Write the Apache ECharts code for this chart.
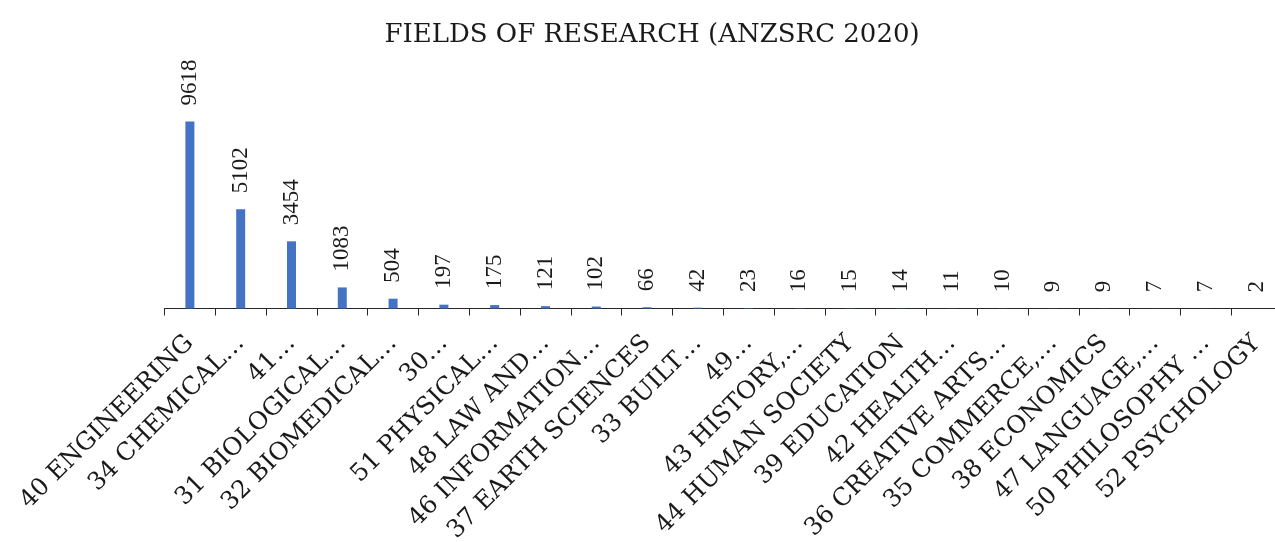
<!DOCTYPE html>
<html>
<head>
    <meta charset="UTF-8">
    <title>Fields of Research</title>
    <style>
        html, body { margin: 0; padding: 0; background: #fff; }
        #main { width: 1275px; height: 542px; }
    </style>
</head>
<body>
<div id="main"></div>
<script src="https://cdn.jsdelivr.net/npm/echarts@6/dist/echarts.min.js"></script>
<script>
    // categories as they appear on the axis (already cut short in the original)
    var fields = [
        '40 ENGINEERING', '34 CHEMICAL…', '41…', '31 BIOLOGICAL…', '32 BIOMEDICAL…',
        '30…', '51 PHYSICAL…', '48 LAW AND…', '46 INFORMATION…', '37 EARTH SCIENCES',
        '33 BUILT…', '49…', '43 HISTORY,…', '44 HUMAN SOCIETY', '39 EDUCATION',
        '42 HEALTH…', '36 CREATIVE ARTS…', '35 COMMERCE,…', '38 ECONOMICS', '47 LANGUAGE,…',
        '50 PHILOSOPHY …', '52 PSYCHOLOGY'
    ];
    var counts = [9618, 5102, 3454, 1083, 504, 197, 175, 121, 102, 66, 42, 23, 16, 15, 14, 11, 10, 9, 9, 7, 7, 2];

    var times = '"Liberation Serif", serif';
    var wideSerif = '"DejaVu Serif", serif';

    var myChart = echarts.init(document.getElementById('main'));
    var option = {
        animation: false,
        title: {
            text: 'FIELDS OF RESEARCH (ANZSRC 2020)',
            left: 647,
            top: 17,
            textAlign: 'center',
            textStyle: {
                fontFamily: wideSerif,
                fontSize: 26,
                fontWeight: 'normal',
                color: '#1a1a1a'
            }
        },
        grid: {
            left: 164.5,
            right: -7,
            top: 114,
            bottom: 233.5,
            containLabel: false,
            outerBoundsMode: 'none'
        },
        xAxis: {
            type: 'category',
            data: fields,
            axisLine: { lineStyle: { color: '#262626', width: 1 } },
            axisTick: { show: true, alignWithLabel: false, length: 7, lineStyle: { color: '#262626' } },
            axisLabel: {
                interval: 0,
                rotate: 45,
                margin: 31,
                hideOverlap: false,
                fontFamily: wideSerif,
                fontSize: 24.5,
                color: '#1a1a1a'
            }
        },
        yAxis: {
            type: 'value',
            min: 0,
            max: 10000,
            show: false,
            splitLine: { show: false }
        },
        series: [
            {
                name: 'Count',
                type: 'bar',
                data: counts,
                barWidth: 9,
                itemStyle: { color: '#4472c4' },
                label: {
                    show: true,
                    position: 'top',
                    rotate: 90,
                    align: 'left',
                    verticalAlign: 'middle',
                    distance: 16,
                    fontFamily: times,
                    fontSize: 23,
                    color: '#1a1a1a'
                }
            }
        ]
    };
    myChart.setOption(option);
</script>
</body>
</html>
